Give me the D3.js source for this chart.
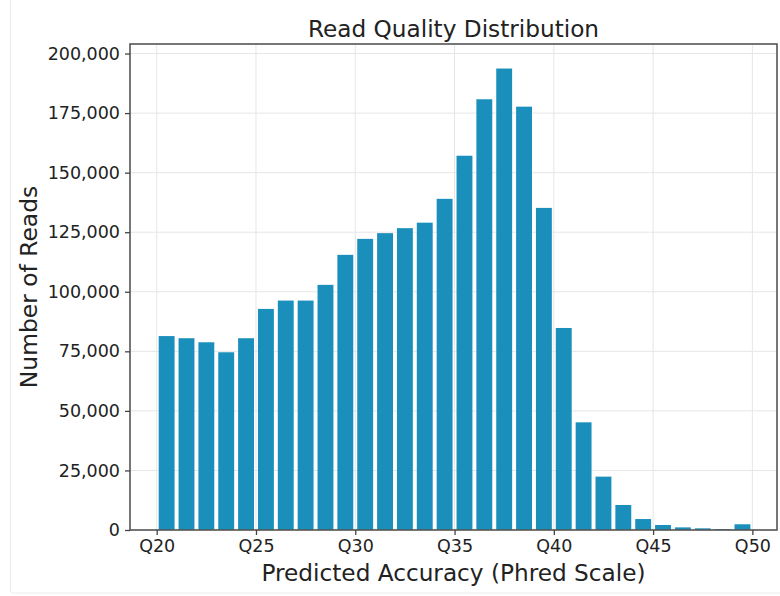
<!DOCTYPE html>
<html><head><meta charset="utf-8">
<script src="https://cdn.jsdelivr.net/npm/d3@7"></script>
<style>
html,body{margin:0;padding:0;background:#fff;}
svg{display:block;font-family:"DejaVu Sans",sans-serif;}
</style></head>
<body>
<svg id="chart" width="780" height="596"></svg>
<script>
const qualityBins = [20,21,22,23,24,25,26,27,28,29,30,31,32,33,34,35,36,37,38,39,40,41,42,43,44,45,46,47,48,49];
const readCounts = [81400,80500,78800,74600,80500,92800,96300,96300,102900,115500,122200,124600,126700,129000,139000,157100,180800,193700,177700,135200,84800,45200,22400,10500,4600,2100,1100,700,400,2400];
const xTickValues = [20,25,30,35,40,45,50];
const xTickLabels = ["Q20","Q25","Q30","Q35","Q40","Q45","Q50"];
const yTickValues = [0,25000,50000,75000,100000,125000,150000,175000,200000];
const titleText = "Read Quality Distribution";
const xLabelText = "Predicted Accuracy (Phred Scale)";
const yLabelText = "Number of Reads";

const svg = d3.select("#chart");
const m = {left:130, right:777, top:44, bottom:530};

// faint figure border
svg.append("rect").attr("x",10.5).attr("y",-2).attr("width",800).attr("height",595)
  .attr("rx",3).attr("fill","none").attr("stroke","#ececec").attr("stroke-width",1);

const x = d3.scaleLinear().domain([18.655, 51.24]).range([m.left, m.right]);
const yMax = 204000;
const y = d3.scaleLinear().domain([0, yMax]).range([m.bottom, m.top]);

const g = svg.append("g");
// grid
g.append("g").selectAll("line").data(yTickValues).join("line")
  .attr("x1",m.left).attr("x2",m.right).attr("y1",d=>y(d)).attr("y2",d=>y(d))
  .attr("stroke","#e6e6e6").attr("stroke-width",1);
g.append("g").selectAll("line").data(xTickValues).join("line")
  .attr("y1",m.top).attr("y2",m.bottom).attr("x1",d=>x(d)).attr("x2",d=>x(d))
  .attr("stroke","#e6e6e6").attr("stroke-width",1);

// bars
g.append("g").selectAll("rect").data(qualityBins).join("rect")
  .attr("x",(d)=>x(d+0.1))
  .attr("width",(d)=>x(d+0.9)-x(d+0.1))
  .attr("y",(d,i)=>y(readCounts[i]))
  .attr("height",(d,i)=>y(0)-y(readCounts[i]))
  .attr("fill","#1a8fbb");

// frame
svg.append("rect").attr("x",m.left).attr("y",m.top).attr("width",m.right-m.left).attr("height",m.bottom-m.top)
  .attr("fill","none").attr("stroke","#555").attr("stroke-width",1.6);

// axes
const fmt = d3.format(",");
const yAxis = d3.axisLeft(y).tickValues(yTickValues).tickFormat(fmt).tickSize(5).tickPadding(5);
const ya = svg.append("g").attr("transform",`translate(${m.left},0)`).call(yAxis);
ya.select(".domain").remove();
ya.selectAll("line").attr("stroke","#444").attr("stroke-width",1.3);
ya.selectAll("text").attr("font-size","17.5px").attr("fill","#222").attr("font-family","DejaVu Sans");

const xAxis = d3.axisBottom(x).tickValues(xTickValues).tickFormat((d,i)=>xTickLabels[i]).tickSize(5).tickPadding(5);
const xa = svg.append("g").attr("transform",`translate(0,${m.bottom})`).call(xAxis);
xa.select(".domain").remove();
xa.selectAll("line").attr("stroke","#444").attr("stroke-width",1.3);
xa.selectAll("text").attr("font-size","17.5px").attr("fill","#222").attr("font-family","DejaVu Sans");

// title and labels
svg.append("text").attr("x",(m.left+m.right)/2).attr("y",37).attr("text-anchor","middle")
  .attr("font-size","23.2px").attr("fill","#222").text(titleText);
svg.append("text").attr("x",(m.left+m.right)/2).attr("y",581).attr("text-anchor","middle")
  .attr("font-size","23.2px").attr("fill","#222").text(xLabelText);
svg.append("text").attr("transform",`translate(37,${(m.top+m.bottom)/2}) rotate(-90)`).attr("text-anchor","middle")
  .attr("font-size","23.4px").attr("fill","#222").text(yLabelText);
</script>
</body></html>
